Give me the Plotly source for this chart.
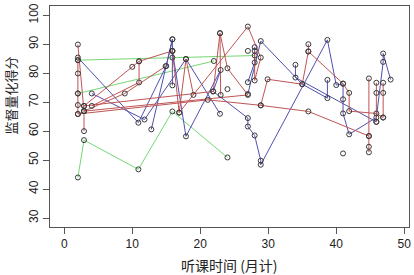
import plotly.graph_objects as go

# ---- data: each path = one subject's observations (month, score) ----
# green group
g1_month = [2.0, 2.9, 10.9, 15.9, 24.0]
g1_score = [44.0, 56.9, 46.8, 66.8, 50.9]
g2_month = [2.0, 15.9, 28.0]
g2_score = [84.5, 85.4, 86.1]
g3_month = [2.0, 22.0]
g3_score = [73.0, 84.2]

# blue group
b1_month = [2.0, 10.9, 15.0, 15.9, 12.8]
b1_score = [85.4, 62.9, 82.5, 91.7, 60.6]
b2_month = [4.05, 11.8, 17.9, 22.9]
b2_score = [73.0, 64.0, 84.9, 66.0]
b3_month = [15.9, 17.9, 23.0, 21.9, 27.0, 27.0, 28.0, 28.9, 28.9, 38.7, 40.0, 41.0,
            41.0, 41.0, 41.9, 45.9, 46.9, 46.9, 48.0]
b3_score = [87.7, 58.2, 81.1, 73.7, 64.5, 61.6, 58.5, 49.8, 48.4, 91.5, 75.9, 76.4,
            71.0, 66.1, 58.9, 64.7, 83.9, 86.8, 77.8]
b4_month = [27.0, 28.9, 35.0, 38.7, 38.7]
b4_score = [72.8, 91.1, 76.2, 71.4, 77.7]
b5_month = [34.0, 34.0, 45.9]
b5_score = [82.9, 78.5, 63.2]
b6_month = [28.0, 28.0, 27.0]
b6_score = [89.0, 83.7, 76.9]
b7_month = [15.9, 15.9, 15.9]
b7_score = [91.7, 87.7, 75.8]

# red group
r1_month = [2.0, 2.9, 2.9]
r1_score = [89.9, 66.9, 60.0]
r2_month = [2.0, 2.0, 2.0, 2.0, 2.0]
r2_score = [84.5, 79.9, 73.0, 69.0, 65.9]
r3_month = [2.9, 10.0, 11.0, 15.9, 16.9, 27.0, 28.9, 28.0, 28.0]
r3_score = [68.7, 82.2, 84.1, 87.7, 66.4, 96.1, 85.4, 77.5, 87.7]
r4_month = [4.05, 11.0, 11.0]
r4_score = [68.7, 76.8, 84.1]
r5_month = [2.9, 8.9, 14.9]
r5_score = [66.9, 73.0, 82.4]
r6_month = [16.9, 17.9, 19.0]
r6_score = [66.4, 84.9, 72.5]
r7_month = [2.9, 21.9, 22.9, 23.0]
r7_score = [68.7, 73.7, 93.8, 72.5]
r8_month = [2.9, 27.0, 24.0, 22.9]
r8_score = [66.9, 72.5, 81.7, 93.8]
r9_month = [2.0, 21.1, 28.9]
r9_score = [65.9, 70.8, 68.9]
r10_month = [35.9, 35.9, 35.0, 29.9, 28.9, 35.9, 44.8, 44.8, 44.8]
r10_score = [90.0, 87.5, 76.2, 77.9, 68.9, 66.8, 58.3, 54.6, 52.7]
r11_month = [35.9, 41.0, 41.9, 41.9, 45.9, 46.9]
r11_score = [87.5, 76.4, 73.2, 66.9, 66.1, 64.7]
r12_month = [44.8, 44.8]
r12_score = [78.2, 58.3]
r13_month = [45.9, 45.9, 45.9]
r13_score = [76.7, 73.2, 63.2]
r14_month = [46.9, 46.9, 46.9]
r14_score = [76.7, 73.2, 64.7]

# isolated observations
lone_month = [41.0, 24.0, 27.0]
lone_score = [52.3, 74.5, 87.7]

x_ticks = [0, 10, 20, 30, 40, 50]
y_ticks = [30, 40, 50, 60, 70, 80, 90, 100]

GREEN = "#74d874"
BLUE = "#5050b0"
RED = "#c05454"

paths = [
    (GREEN, g1_month, g1_score), (GREEN, g2_month, g2_score), (GREEN, g3_month, g3_score),
    (BLUE, b1_month, b1_score), (BLUE, b2_month, b2_score), (BLUE, b3_month, b3_score),
    (BLUE, b4_month, b4_score), (BLUE, b5_month, b5_score), (BLUE, b6_month, b6_score),
    (BLUE, b7_month, b7_score),
    (RED, r1_month, r1_score), (RED, r2_month, r2_score), (RED, r3_month, r3_score),
    (RED, r4_month, r4_score), (RED, r5_month, r5_score), (RED, r6_month, r6_score),
    (RED, r7_month, r7_score), (RED, r8_month, r8_score), (RED, r9_month, r9_score),
    (RED, r10_month, r10_score), (RED, r11_month, r11_score), (RED, r12_month, r12_score),
    (RED, r13_month, r13_score), (RED, r14_month, r14_score),
]

fig = go.Figure()
for color, xs, ys in paths:
    fig.add_trace(go.Scatter(x=xs, y=ys, mode="lines",
                             line=dict(color=color, width=1), showlegend=False,
                             hoverinfo="skip"))
all_x, all_y = [], []
for color, xs, ys in paths:
    all_x += xs
    all_y += ys
all_x += lone_month
all_y += lone_score
fig.add_trace(go.Scatter(x=all_x, y=all_y, mode="markers",
                         marker=dict(symbol="circle-open", size=5, color="#3a3a3a",
                                     line=dict(width=1, color="#3a3a3a")),
                         showlegend=False, hoverinfo="skip"))

axis_common = dict(showgrid=False, zeroline=False, showline=True, mirror=True,
                   linecolor="#555555", linewidth=1, ticks="outside", ticklen=6,
                   tickcolor="#555555", ticklabeloverflow="allow",
                   tickfont=dict(family="Liberation Sans, Arial", size=12, color="#222222"))
fig.update_layout(
    width=414, height=275,
    margin=dict(l=50, r=3, t=6, b=48),
    paper_bgcolor="white", plot_bgcolor="white",
    hovermode=False,
    xaxis=dict(range=[-2.1, 50.7], tickvals=x_ticks, **axis_common),
    yaxis=dict(range=[26.9, 103.2], tickvals=y_ticks, tickangle=-90, **axis_common),
    annotations=[
        dict(text="听课时间 (月计)", x=0.5, xref="paper", y=-0.172, yref="paper",
             yanchor="middle", showarrow=False,
             font=dict(family="Noto Sans CJK SC", size=14, color="#222222")),
        dict(text="监督量化得分", x=-0.11, xref="paper", y=0.593, yref="paper",
             xanchor="center", yanchor="middle", textangle=-90, showarrow=False,
             font=dict(family="Noto Sans CJK SC", size=13, color="#222222")),
    ],
)

fig.write_html("out.html", config={"displayModeBar": False, "staticPlot": True},
               post_script="document.body.style.margin='0px';document.body.style.overflow='hidden';")
